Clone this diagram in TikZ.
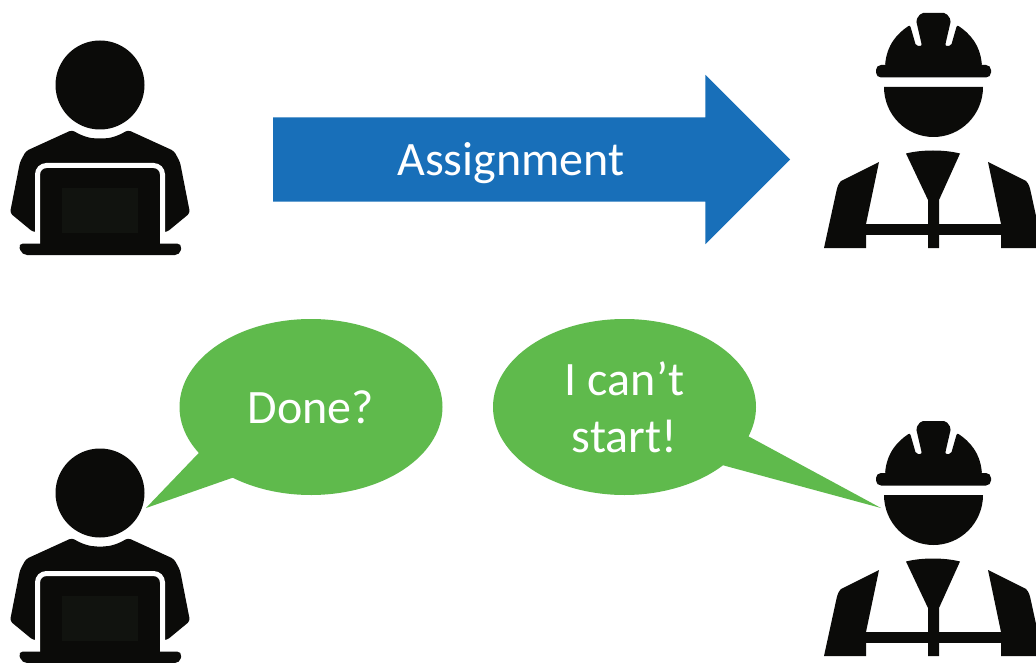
\documentclass[tikz,border=0pt]{standalone}
\usepackage{fontspec}
\setmainfont{Carlito}
\usetikzlibrary{shapes.arrows,shapes.callouts}
\definecolor{iconblack}{HTML}{0B0B09}
\definecolor{screengrey}{HTML}{11130F}
\definecolor{arrowblue}{HTML}{186FB9}
\definecolor{bubblegreen}{HTML}{5FBA4C}
\tikzset{
    label text/.style={text=white,font=\fontsize{48}{57}\selectfont,align=center},
    bubble/.style={ellipse callout,fill=bubblegreen,minimum width=263pt,minimum height=176pt,inner sep=0pt,label text},
    developer/.pic={
        \fill[iconblack] (100,85) circle (44.5);
        \fill[iconblack,rounded corners=3pt] (72,130) .. controls (82,136) and (90,138.5) .. (100,138.5)
            .. controls (110,138.5) and (118,136) .. (128,130) -- (174,151) -- (180,162) -- (190,213) -- (167,232)
            -- (33,232) -- (10,213) -- (20,162) -- (26,151) -- cycle;
        \draw[white,line width=5pt,fill=iconblack,rounded corners=9pt] (37.5,250) -- (37.5,165.5) -- (162.5,165.5) -- (162.5,250);
        \fill[iconblack,rounded corners=5pt] (18,243.5) -- (182,243.5) -- (180,255) -- (22,255) -- cycle;
        \fill[screengrey] (62,188) rectangle (138,233);
    },
    worker/.pic={
        \fill[iconblack,rounded corners=2pt] (885,66) .. controls (887,44) and (898,33) .. (910,25) -- (916,46) -- (922,46)
            -- (916,20) -- (921,13) -- (946,13) -- (951,20) -- (945,46) -- (951,46) -- (957,25)
            .. controls (969,33) and (980,44) .. (982,66) -- cycle;
        \fill[iconblack,rounded corners=5pt] (876,65) rectangle (991,77.5);
        \fill[iconblack] (884,87) -- (983,87) arc[start angle=0,end angle=180,x radius=49.5,y radius=50] -- cycle;
        \fill[iconblack] (906,153.5) .. controls (922,149.5) and (944,149.5) .. (960,153.5) -- (939,200) -- (939,248)
            -- (928,248) -- (928,200) -- cycle;
        \fill[iconblack] (866,224) rectangle (1001,235);
        \fill[iconblack] (879,162) -- (841,181) .. controls (838,184) and (837,188) .. (836,193) -- (824,248) -- (866,248) -- (866,224) -- cycle;
        \fill[iconblack] (988,162) -- (1026,181) .. controls (1029,184) and (1030,188) .. (1031,193) -- (1043,248) -- (1001,248) -- (1001,224) -- cycle;
    },
}

\begin{document}
\begin{tikzpicture}[x=1pt,y=-1pt]
    \clip (0,0) rectangle (1036,663);
    \fill[white] (0,0) rectangle (1036,663);

    \pic (dev_top) at (0,0) {developer};
    \pic (dev_bottom) at (0,408) {developer};
    \pic (worker_top) at (0,0) {worker};
    \pic (worker_bottom) at (0,408) {worker};

    \node[single arrow,fill=arrowblue,inner xsep=0pt,inner ysep=42pt,minimum height=517pt,
        single arrow head extend=42.5pt,single arrow tip angle=90] (assign) at (510.5,159.5) {};
    \node[label text] (assign_text) at (511,163) {Assignment};

    \coordinate (done_tip) at (146,508);
    \coordinate (start_tip) at (881,508);
    \node[bubble,callout absolute pointer={(done_tip)},callout pointer arc=22] (done) at (311,407) {Done?};
    \node[bubble,callout absolute pointer={(start_tip)},callout pointer arc=22] (start) at (624.5,407) {I can’t\\start!};
\end{tikzpicture}
\end{document}
